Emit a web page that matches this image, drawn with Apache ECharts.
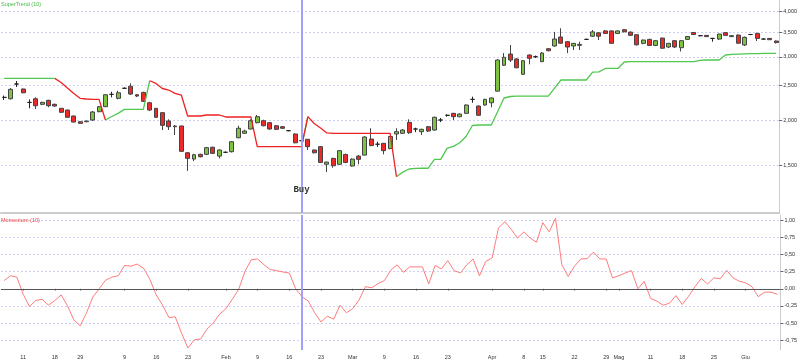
<!DOCTYPE html>
<html><head><meta charset="utf-8">
<script src="https://cdn.jsdelivr.net/npm/echarts@6/dist/echarts.min.js"></script>
<style>html,body{margin:0;padding:0;background:#fff}#c{width:800px;height:360px}</style>
</head><body><div id="c"></div>
<script>
const opens = [2318,2298,2524,2445,2245,2298,2218,2275,2218,2162,
2139,2059,1985,1985,2007,2116,2185,2363,2304,2456,
2488,2357,2393,2240,2162,2103,1994,1923,1932,1629,
1565,1613,1613,1687,1595,1634,1640,1793,1844,1895,
1973,1998,1973,1935,1923,1875,1836,1759,1775,1658,
1694,1514,1572,1514,1612,1497,1595,1605,1778,1720,
1730,1674,1836,1844,1977,1895,1863,1923,1883,2007,
2068,2094,2050,2094,2289,2194,2208,2240,2412,2844,
3055,2960,2685,3036,3003,2910,3160,3216,3405,3305,
3216,3228,3354,3422,3497,3540,3540,3483,3567,3513,
3455,3270,3354,3227,3382,3195,3326,3181,3354,3505,
3434,3441,3375,3361,3500,3413,3448,3236,3460,3483,
3361,3375,3319];
const closes = [2318,2440,2524,2387,2245,2198,2246,2198,2194,2108,
2042,1981,1965,1994,2112,2185,2357,2363,2387,2456,
2368,2338,2260,2139,2042,1940,1923,1932,1644,1572,
1608,1588,1683,1623,1658,1634,1748,1904,1871,1998,
2050,1935,1895,1891,1904,1875,1736,1759,1694,1629,
1532,1535,1500,1651,1532,1565,1562,1801,1705,1720,
1651,1807,1863,1883,1851,1895,1891,1871,2042,2007,
2068,2050,2085,2208,2289,2068,2289,2309,2941,2992,
2941,2800,2928,2973,3003,3074,3120,3361,3273,3195,
3270,3249,3354,3518,3422,3483,3270,3540,3520,3441,
3240,3340,3227,3326,3170,3270,3195,3326,3415,3460,
3434,3413,3375,3469,3441,3434,3273,3398,3460,3375,
3361,3347,3286];
const lows = [2280,2286,2476,2380,2162,2153,2205,2176,2185,2099,
2036,1977,1957,1980,1994,2108,2180,2319,2289,2445,
2353,2323,2250,2125,2033,1883,1883,1824,1639,1451,
1545,1582,1605,1615,1572,1626,1632,1786,1839,1891,
1965,1928,1887,1883,1895,1868,1730,1745,1658,1623,
1528,1441,1481,1507,1525,1491,1514,1602,1699,1690,
1613,1665,1767,1836,1836,1859,1824,1859,1875,1981,
2050,2007,2042,2089,2240,2059,2198,2176,2407,2831,
2904,2790,2673,2862,2979,2904,3108,3202,3267,3074,
3134,3134,3340,3405,3340,3470,3266,3470,3505,3430,
3226,3250,3213,3213,3160,3174,3174,3105,3344,3448,
3420,3405,3305,3340,3430,3405,3266,3216,3445,3319,
3350,3340,3266];
const highs = [2345,2460,2573,2453,2289,2319,2255,2283,2227,2166,
2143,2063,1990,1998,2126,2194,2368,2403,2418,2472,
2535,2368,2403,2254,2166,2112,2016,1944,1935,1637,
1619,1619,1690,1694,1665,1642,1756,1935,1887,2016,
2072,2011,1981,1944,1932,1883,1844,1770,1778,1661,
1701,1538,1578,1655,1619,1572,1605,1809,1904,1748,
1734,1813,1904,1895,2016,1911,1899,1932,2050,2033,
2081,2099,2094,2218,2329,2204,2298,2319,2954,3074,
3236,2979,2941,3049,3025,3094,3174,3518,3600,3319,
3277,3305,3370,3560,3515,3560,3550,3552,3583,3527,
3465,3350,3367,3340,3390,3277,3340,3340,3425,3515,
3450,3448,3385,3476,3515,3441,3460,3415,3470,3500,
3370,3382,3330];
const superTrend = [2617,2617,2617,2617,2617,2617,2617,2617,2617,2548,
2460,2376,2304,2294,2289,2289,2007,2052,2094,2148,
2148,2148,2148,2577,2533,2453,2429,2379,2353,2059,
2059,2059,2072,2072,2072,2046,2046,2046,2046,2046,
1694,1694,1694,1694,1694,1694,1694,1694,2050,1963,
1907,1848,1844,1844,1844,1844,1844,1844,1844,1844,
1844,1844,1399,1440,1469,1474,1476,1476,1562,1562,
1676,1697,1737,1807,1938,1944,1944,1944,2118,2309,
2331,2338,2338,2338,2338,2338,2338,2460,2589,2589,
2589,2589,2589,2722,2727,2787,2787,2787,2904,2910,
2910,2910,2910,2910,2910,2910,2910,2910,2910,2910,
2936,2941,2941,2941,3036,3049,3055,3060,3062,3064,
3066,3068,3068];
const trendUp = [1,1,1,1,1,1,1,1,0,0,
0,0,0,0,0,0,1,1,1,1,
1,1,1,0,0,0,0,0,0,0,
0,0,0,0,0,0,0,0,0,0,
0,0,0,0,0,0,0,1,0,0,
0,0,0,0,0,0,0,0,0,0,
0,0,1,1,1,1,1,1,1,1,
1,1,1,1,1,1,1,1,1,1,
1,1,1,1,1,1,1,1,1,1,
1,1,1,1,1,1,1,1,1,1,
1,1,1,1,1,1,1,1,1,1,
1,1,1,1,1,1,1,1,1,1,
1,1,1];
const momentum = [0.12,0.19,0.17,-0.08,-0.26,-0.17,-0.155,-0.24,-0.17,-0.09,
-0.25,-0.455,-0.54,-0.35,-0.12,0.00,0.125,0.17,0.19,0.34,
0.33,0.36,0.30,0.135,-0.09,-0.24,-0.42,-0.41,-0.65,-0.865,
-0.745,-0.735,-0.59,-0.50,-0.37,-0.29,-0.155,-0.01,0.255,0.425,
0.435,0.35,0.28,0.265,0.245,0.23,0.00,-0.115,-0.18,-0.35,
-0.485,-0.40,-0.445,-0.24,-0.35,-0.29,-0.165,0.03,0.015,0.075,
0.12,0.27,0.35,0.24,0.32,0.32,0.32,0.07,0.34,0.29,
0.41,0.265,0.23,0.35,0.435,0.19,0.40,0.45,0.885,0.98,
0.87,0.74,0.83,0.74,0.68,0.965,0.83,1.03,0.35,0.18,
0.33,0.435,0.44,0.535,0.435,0.435,0.16,0.19,0.23,0.265,
0.00,0.11,-0.14,-0.18,-0.24,-0.21,-0.10,-0.23,-0.11,0.03,
0.15,0.07,0.16,0.145,0.27,0.16,0.11,0.087,0.03,-0.115,
-0.05,-0.05,-0.08];
const tickIndex = [3,8,12,19,24,29,35,40,45,50,55,60,65,70,77,82,85,90,95,97,102,107,112,117];
const tickText = ['11','18','29','9','16','23','Feb','9','16','23','Mar','9','16','23','Apr','8','15','22','29','Mag','11','18','25','Giu'];
const monthNames = ['Feb','Mar','Apr','Mag','Giu'];
const priceTicks = [1500,2000,2500,3000,3500,4000];
const momentumTicks = [-0.75,-0.5,-0.25,0,0.25,0.5,0.75,1];
const buyIndex = 47;
const buyLabelPrice = 1290;
const buyText = 'Buy';

const n = opens.length;
const categories = opens.map((_, i) => 'd' + i);
const labelFor = opens.map(() => '');
tickIndex.forEach((idx, k) => { labelFor[idx] = tickText[k]; });
const candles = opens.map((o, i) => [o, closes[i], lows[i], highs[i]]);
const stGreen = superTrend.map((v, i) => (trendUp[i] || (i > 0 && trendUp[i-1])) ? v : null);
const stRed = superTrend.map((v, i) => (!trendUp[i] || (i > 0 && !trendUp[i-1])) ? v : null);

const labelFont = 'Liberation Sans';
const gridLine = { show: true, lineStyle: { color: '#cfcff5', type: [2, 2], width: 1 } };

const chart = echarts.init(document.getElementById('c'), null, { renderer: 'canvas' });
chart.setOption({
  animation: false,
  backgroundColor: '#fff',
  title: [
    { text: 'SuperTrend (10)', left: 1, top: 1, padding: 0,
      textStyle: { fontSize: 5.5, color: '#44bb44', fontWeight: 'normal', fontFamily: labelFont } },
    { text: 'Momentum (10)', left: 1, top: 217, padding: 0,
      textStyle: { fontSize: 5.5, color: '#ee4444', fontWeight: 'normal', fontFamily: labelFont } }
  ],
  grid: [
    { left: 1, width: 781, top: 0, height: 213 },
    { left: 1, width: 781, top: 215, height: 136 }
  ],
  xAxis: [
    { type: 'category', gridIndex: 0, data: categories, boundaryGap: true,
      axisLine: { show: true, lineStyle: { color: '#cccccc', width: 2 } },
      axisTick: { show: false }, axisLabel: { show: false }, splitLine: { show: false } },
    { type: 'category', gridIndex: 1, data: categories, boundaryGap: true,
      axisLine: { show: true, lineStyle: { color: '#cccccc', width: 1 } },
      axisTick: { show: true, alignWithLabel: true, length: 2, lineStyle: { color: '#888' },
        interval: (i) => labelFor[i] !== '' },
      axisLabel: { show: true, interval: (i) => labelFor[i] !== '', margin: 4,
        fontSize: 5.5, fontFamily: labelFont,
        formatter: (v, i) => labelFor[i],
        color: (v, i) => monthNames.indexOf(labelFor[i]) >= 0 ? '#5555ff' : '#333333' },
      splitLine: { show: false } }
  ],
  yAxis: [
    { type: 'log', logBase: 10, gridIndex: 0, position: 'right', min: 1110, max: 4310,
      axisLine: { show: true, lineStyle: { color: '#cccccc' } },
      axisTick: { show: true, length: 3, customValues: priceTicks, lineStyle: { color: '#666' } },
      axisLabel: { show: true, customValues: priceTicks, margin: 4, fontSize: 5.5, fontFamily: labelFont,
        color: '#333', formatter: v => Math.round(v).toLocaleString('en-US') },
      splitLine: gridLine },
    { type: 'value', gridIndex: 1, position: 'right', min: -0.894, max: 1.077,
      axisLine: { show: true, lineStyle: { color: '#cccccc' } },
      axisTick: { show: true, length: 3, customValues: momentumTicks, lineStyle: { color: '#666' } },
      axisLabel: { show: true, customValues: momentumTicks, margin: 4, fontSize: 5.5, fontFamily: labelFont,
        color: '#333', formatter: v => Number(v).toFixed(2).replace('.', ',') },
      splitLine: gridLine }
  ],
  series: [
    { type: 'candlestick', xAxisIndex: 0, yAxisIndex: 0, data: candles, barWidth: '70%',
      itemStyle: { color: '#7ec242', color0: '#ec2a2a', borderColor: '#444', borderColor0: '#444',
        borderColorDoji: '#222', borderWidth: 1 },
      markLine: { silent: true, symbol: 'none', animation: false,
        lineStyle: { color: '#a0a0ff', width: 2, type: 'solid' }, label: { show: false },
        data: [{ xAxis: buyIndex }] },
      markPoint: { silent: true, symbol: 'rect', symbolSize: 1, itemStyle: { color: 'rgba(0,0,0,0)' },
        label: { show: true, position: 'inside', formatter: buyText, fontFamily: 'Liberation Mono',
          fontWeight: 'bold', fontSize: 9, color: '#333' },
        data: [{ coord: [buyIndex, buyLabelPrice] }] } },
    { type: 'line', xAxisIndex: 0, yAxisIndex: 0, data: stGreen, showSymbol: false, connectNulls: false,
      lineStyle: { color: '#50c850', width: 1.3 }, itemStyle: { color: '#50c850' } },
    { type: 'line', xAxisIndex: 0, yAxisIndex: 0, data: stRed, showSymbol: false, connectNulls: false,
      lineStyle: { color: '#ee2222', width: 1.3 }, itemStyle: { color: '#ee2222' } },
    { type: 'line', xAxisIndex: 1, yAxisIndex: 1, data: momentum, showSymbol: false,
      lineStyle: { color: '#ff7b7b', width: 1 }, itemStyle: { color: '#ff7b7b' },
      markLine: { silent: true, symbol: 'none', animation: false, label: { show: false },
        data: [
          { yAxis: 0, lineStyle: { color: '#555', width: 1, type: 'solid' } },
          { xAxis: buyIndex, lineStyle: { color: '#a0a0ff', width: 2, type: 'solid' } }
        ] } }
  ]
});
</script></body></html>
